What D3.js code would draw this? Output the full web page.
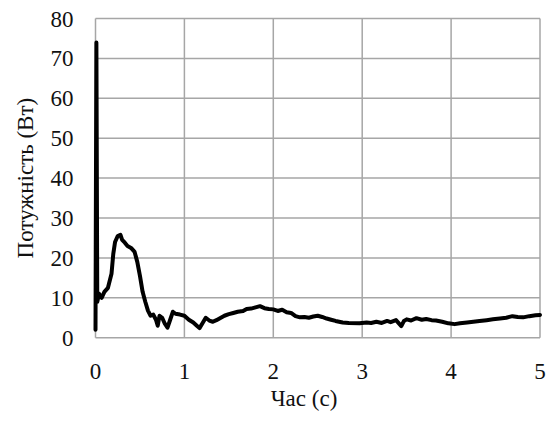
<!DOCTYPE html>
<html>
<head>
<meta charset="utf-8">
<script src="https://cdn.jsdelivr.net/npm/d3@7"></script>
<style>
	body { margin: 0; background: #fff; }
	svg text { font-family: 'Liberation Serif', serif !important; }
</style>
</head>
<body>
<div id="viz"></div>
<script>
// time, s
const time = [0, 0.01, 0.02, 0.04, 0.07, 0.1, 0.14, 0.18, 0.2, 0.22, 0.25, 0.28, 0.3, 0.33, 0.36, 0.4,
	0.44, 0.47, 0.5, 0.53, 0.56, 0.59, 0.62, 0.65, 0.68, 0.7, 0.72, 0.75, 0.78, 0.81, 0.84, 0.87,
	0.9, 0.95, 1.0, 1.05, 1.1, 1.14, 1.17, 1.2, 1.24, 1.28, 1.32, 1.36, 1.4, 1.45, 1.5, 1.55,
	1.6, 1.66, 1.7, 1.75, 1.8, 1.85, 1.9, 1.95, 2.0, 2.05, 2.1, 2.15, 2.2, 2.25, 2.3, 2.35,
	2.4, 2.45, 2.5, 2.55, 2.6, 2.65, 2.7, 2.78, 2.85, 2.97, 3.05, 3.1, 3.16, 3.22, 3.28, 3.32,
	3.38, 3.42, 3.44, 3.47, 3.5, 3.55, 3.61, 3.67, 3.72, 3.78, 3.83, 3.9, 3.97, 4.04, 4.1, 4.18,
	4.25, 4.32, 4.4, 4.47, 4.55, 4.62, 4.69, 4.75, 4.81, 4.88, 4.95, 5.0];

// power, W
const power = [2, 74, 9, 11, 10, 11.5, 12.5, 16, 21, 24, 25.5, 25.8, 24.5, 23.8, 23, 22.5,
	21.5, 19, 15.5, 11.5, 9, 6.8, 5.5, 5.8, 4.5, 3, 5.5, 5, 3.5, 2.5, 4.5, 6.5,
	6, 5.8, 5.5, 4.5, 3.8, 3, 2.4, 3.5, 5, 4.3, 4, 4.4, 4.9, 5.5, 5.9, 6.2,
	6.5, 6.7, 7.2, 7.3, 7.6, 7.9, 7.4, 7.2, 7.1, 6.7, 7, 6.4, 6.2, 5.4, 5.1, 5.2,
	5, 5.3, 5.5, 5.2, 4.8, 4.5, 4.2, 3.8, 3.7, 3.6, 3.8, 3.7, 4.0, 3.7, 4.2, 3.9,
	4.4, 3.4, 2.9, 4.2, 4.6, 4.3, 4.9, 4.5, 4.7, 4.4, 4.3, 4.0, 3.6, 3.4, 3.6, 3.8,
	4.0, 4.2, 4.4, 4.6, 4.8, 5.0, 5.4, 5.2, 5.1, 5.4, 5.6, 5.7];

const xTicks = [0, 1, 2, 3, 4, 5];
const yTicks = [0, 10, 20, 30, 40, 50, 60, 70, 80];

const xTitle = 'Час (с)';
const yTitle = 'Потужність (Вт)';

const font = 'Liberation Serif';

let width = 547, height = 424;
let margin = { top: 18.5, right: 7, bottom: 86.3, left: 95.5 };

let data = time.map((t, i) => ({ t, p: power[i] }));

let svg = d3.select('#viz').append('svg')
	.attr('width', width)
	.attr('height', height)
	.attr('font-family', font);

let x = d3.scaleLinear()
	.domain([0, 5])
	.range([margin.left, width - margin.right]);

let y = d3.scaleLinear()
	.domain([0, 80])
	.range([height - margin.bottom, margin.top]);

// grid
svg.append('g')
	.selectAll('line')
	.data(xTicks)
	.join('line')
	.attr('x1', d => x(d)).attr('x2', d => x(d))
	.attr('y1', y(0)).attr('y2', y(80))
	.attr('stroke', '#a6a6a6')
	.attr('stroke-width', 1.5);

svg.append('g')
	.selectAll('line')
	.data(yTicks)
	.join('line')
	.attr('x1', x(0)).attr('x2', x(5))
	.attr('y1', d => y(d)).attr('y2', d => y(d))
	.attr('stroke', '#a6a6a6')
	.attr('stroke-width', 1.5);

// tick labels drawn by hand from the scales
svg.append('g')
	.selectAll('text')
	.data(xTicks)
	.join('text')
	.attr('x', d => x(d))
	.attr('y', y(0) + 41)
	.attr('text-anchor', 'middle')
	.attr('font-family', font)
	.attr('font-size', 23)
	.attr('fill', '#111')
	.text(d => d);

svg.append('g')
	.selectAll('text')
	.data(yTicks)
	.join('text')
	.attr('x', x(0) - 22)
	.attr('y', d => y(d) + 8)
	.attr('text-anchor', 'end')
	.attr('font-family', font)
	.attr('font-size', 23)
	.attr('fill', '#111')
	.text(d => d);

svg.append('text')
	.attr('x', 304)
	.attr('y', 406)
	.attr('text-anchor', 'middle')
	.attr('font-family', font)
	.attr('font-size', 23)
	.attr('fill', '#111')
	.text(xTitle);

svg.append('text')
	.attr('transform', `translate(33,${(y(0) + y(80)) / 2}) rotate(-90)`)
	.attr('text-anchor', 'middle')
	.attr('font-family', font)
	.attr('font-size', 23)
	.attr('fill', '#111')
	.text(yTitle);

let line = d3.line()
	.x(d => x(d.t))
	.y(d => y(d.p));

svg.append('path')
	.datum(data)
	.attr('fill', 'none')
	.attr('stroke', '#000')
	.attr('stroke-width', 4)
	.attr('stroke-linejoin', 'round')
	.attr('stroke-linecap', 'round')
	.attr('d', line);
</script>
</body>
</html>
